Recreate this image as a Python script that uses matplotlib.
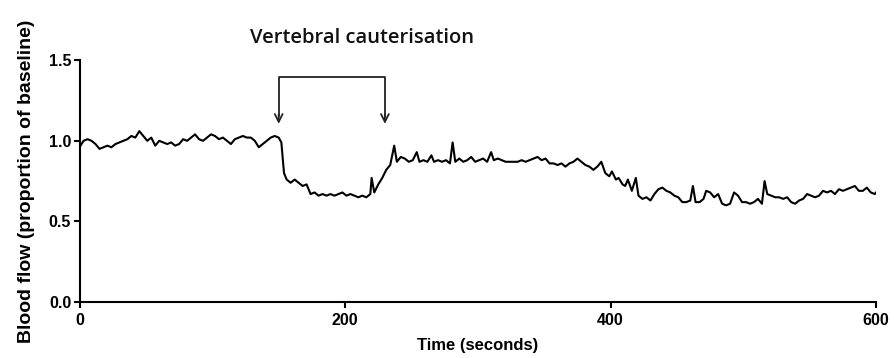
import matplotlib
matplotlib.use("Agg")
import matplotlib.pyplot as plt

# blood flow trace (seconds, proportion of baseline)
time_s = [
    0, 3, 6, 9, 12, 15, 18, 21, 24, 27, 30, 33, 36, 39, 42, 45, 48, 51, 54, 57,
    60, 63, 66, 69, 72, 75, 78, 81, 84, 87, 90, 93, 96, 99, 102, 105, 108, 111,
    114, 117, 120, 123, 126, 129, 132, 135, 138, 141, 144, 147, 150, 152,
    154, 156, 159, 162, 165, 168, 171, 174, 177, 180, 183, 186, 189, 192, 195,
    198, 201, 204, 207, 210, 213, 216, 219, 220, 222, 225, 228, 231, 234, 237,
    239, 242, 245, 248, 251, 254, 256, 259, 262, 265, 267, 270, 273, 276, 279,
    281, 283, 286, 289, 292, 295, 298, 301, 304, 307, 310, 312, 315, 318, 321,
    324, 327, 330, 333, 336, 339, 342, 345, 348, 351, 354, 357, 360, 363, 366,
    369, 372, 375, 378, 381, 384, 387, 390, 393, 396, 399, 401, 404, 406, 409,
    411, 413, 416, 419, 421, 424, 427, 430, 433, 436, 439, 442, 445, 448, 451,
    454, 457, 460, 462, 464, 467, 470, 472, 475, 478, 481, 484, 487, 490, 493,
    496, 499, 502, 505, 508, 511, 514, 516, 518, 521, 524, 527, 530, 533, 536,
    539, 542, 545, 548, 551, 554, 557, 560, 563, 566, 569, 572, 575, 578, 581,
    584, 587, 590, 593, 596, 599, 600,
]
flow = [
    0.96, 1.00, 1.01, 1.00, 0.98, 0.95, 0.96, 0.97, 0.96, 0.98, 0.99, 1.00,
    1.01, 1.03, 1.02, 1.06, 1.03, 1.00, 1.02, 0.97, 1.00, 0.99, 0.98, 0.99,
    0.97, 0.98, 1.01, 1.00, 1.02, 1.04, 1.01, 1.00, 1.02, 1.04, 1.03, 1.01,
    1.02, 1.00, 0.98, 1.01, 1.02, 1.03, 1.02, 1.02, 1.00, 0.96, 0.98, 1.00,
    1.02, 1.03, 1.02, 0.99,
    0.80, 0.76, 0.74, 0.76, 0.74, 0.72, 0.73, 0.67, 0.68, 0.66, 0.67, 0.66,
    0.67, 0.66, 0.67, 0.68, 0.66, 0.67, 0.66, 0.65, 0.66, 0.65, 0.67, 0.77,
    0.68, 0.73, 0.77, 0.82, 0.85, 0.97,
    0.87, 0.90, 0.89, 0.87, 0.88, 0.93, 0.87, 0.88, 0.87, 0.91, 0.87, 0.88,
    0.87, 0.88, 0.86, 0.99, 0.87, 0.89, 0.87, 0.88, 0.90, 0.87, 0.88, 0.89,
    0.87, 0.93, 0.88, 0.89, 0.88, 0.87, 0.87, 0.87, 0.87, 0.88, 0.87, 0.88,
    0.89, 0.90, 0.88, 0.89, 0.86, 0.86, 0.85, 0.86, 0.84, 0.86, 0.87, 0.89,
    0.87, 0.85, 0.84, 0.82, 0.84, 0.87, 0.80, 0.78,
    0.81, 0.76, 0.77, 0.73, 0.72, 0.76, 0.69, 0.77, 0.66, 0.64, 0.65, 0.63,
    0.67, 0.70, 0.71, 0.69, 0.68, 0.66, 0.65, 0.62, 0.62, 0.63, 0.72, 0.62,
    0.62, 0.64, 0.69, 0.68, 0.65, 0.67, 0.61, 0.60, 0.61, 0.68, 0.66, 0.62,
    0.62, 0.61, 0.62, 0.64, 0.61, 0.75, 0.67, 0.66, 0.65, 0.65, 0.64, 0.65,
    0.62, 0.61, 0.63, 0.64, 0.67, 0.66, 0.65, 0.66, 0.69, 0.68, 0.69, 0.67,
    0.70, 0.69, 0.70, 0.71, 0.72, 0.69, 0.69, 0.71, 0.68, 0.67, 0.68,
]

cauterisation_start = 150
cauterisation_end = 230

x_ticks = [0, 200, 400, 600]
y_ticks = [0.0, 0.5, 1.0, 1.5]

plt.rcParams["font.family"] = ["Liberation Sans", "DejaVu Sans"]

fig = plt.figure(figsize=(8.94, 3.58), dpi=100)
ax = fig.add_axes([0.089, 0.156, 0.891, 0.676])

ax.plot(time_s, flow, color="black", linewidth=1.5)

ax.set_xlim(0, 600)
ax.set_ylim(0, 1.5)
ax.set_xticks(x_ticks)
ax.set_yticks(y_ticks)
ax.set_yticklabels([f"{v:.1f}" for v in y_ticks])
ax.spines["top"].set_visible(False)
ax.spines["right"].set_visible(False)
for s in ["left", "bottom"]:
    ax.spines[s].set_linewidth(1.5)
ax.tick_params(width=1.5, length=4, direction="out", labelsize=11.5, pad=2)
ax.tick_params(axis="x", pad=4)
for lab in ax.get_xticklabels() + ax.get_yticklabels():
    lab.set_fontweight("bold")

ax.set_xlabel("Time (seconds)", fontsize=12, fontweight="bold", labelpad=7)
ax.set_ylabel("Blood flow (proportion of baseline)", fontsize=14,
              fontweight="bold", labelpad=10)

# bracket with arrows marking the cauterisation period
top = 1.393
tip = 1.105
ax.plot([cauterisation_start, cauterisation_start, cauterisation_end, cauterisation_end],
        [tip + 0.05, top, top, tip + 0.05], color="#222222", linewidth=1.3,
        clip_on=False)
for xpos in [cauterisation_start, cauterisation_end]:
    ax.annotate("", xy=(xpos, tip), xytext=(xpos, tip + 0.06),
                arrowprops=dict(arrowstyle="->", color="#222222", lw=1.3,
                                mutation_scale=14, shrinkA=0, shrinkB=0),
                annotation_clip=False)

fig.text(362 / 894, 1 - 38 / 358, "Vertebral cauterisation", ha="center",
         va="center", fontsize=14.5, fontweight="semibold",
         family=["Open Sans", "DejaVu Sans"], color="#111111")

fig.savefig("out.png", dpi=100)
